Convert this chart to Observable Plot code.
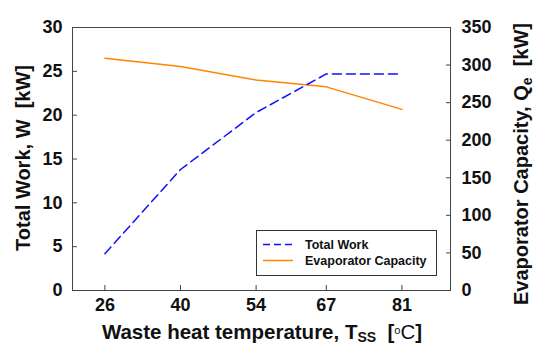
<!DOCTYPE html>
<html>
<head>
<meta charset="utf-8">
<script src="https://cdn.jsdelivr.net/npm/d3@7"></script>
<script src="https://cdn.jsdelivr.net/npm/@observablehq/plot@0.6"></script>
<style>
  html, body { margin: 0; padding: 0; background: #fff; }
  svg { display: block; }
</style>
</head>
<body>
<div id="chart"></div>
<script>
const temps = [26, 40, 54, 67, 81];
const totalWork = [4.2, 13.8, 20.3, 24.7, 24.7];
const evapCapacity = [309, 298, 280, 271, 241];
const leftTicks = [0, 5, 10, 15, 20, 25, 30];
const rightTicks = [0, 50, 100, 150, 200, 250, 300, 350];
const seriesNames = ["Total Work", "Evaporator Capacity"];
const leftMax = 30, rightMax = 350;

const toLeft = v => v * leftMax / rightMax;
const workData = temps.map((t, i) => ({t, v: totalWork[i]}));
const evapData = temps.map((t, i) => ({t, v: toLeft(evapCapacity[i])}));

const blue = "#1010ff", orange = "#ff8400", frameColor = "#444";

const svg = Plot.plot({
  width: 535, height: 346,
  marginLeft: 72, marginRight: 85, marginTop: 27, marginBottom: 56,
  style: {fontFamily: "'Liberation Sans', Arial, sans-serif", fontSize: "18px", fontWeight: "bold", color: "#111", background: "#fff"},
  x: {domain: [20, 90]},
  y: {domain: [0, leftMax]},
  marks: [
    Plot.frame({stroke: frameColor}),
    Plot.axisX(temps, {tickSize: -5, tickPadding: 13, stroke: frameColor, label: null}),
    Plot.axisY(leftTicks, {anchor: "left", tickSize: -5, tickPadding: 15, stroke: frameColor, label: null}),
    Plot.axisY(rightTicks.map(toLeft), {anchor: "right", tickSize: -5, tickPadding: 16, stroke: frameColor, label: null,
      tickFormat: (d) => String(Math.round(d * rightMax / leftMax)), textAnchor: "start"}),
    Plot.line(evapData, {x: "t", y: "v", stroke: orange, strokeWidth: 1.5}),
    Plot.line(workData, {x: "t", y: "v", stroke: blue, strokeWidth: 1.5, strokeDasharray: "9,5"})
  ]
});

const s = d3.select(svg);
const font = "'Liberation Sans', Arial, sans-serif";

// Left title
s.append("text")
  .attr("transform", "translate(30,158) rotate(-90)")
  .attr("text-anchor", "middle").attr("font-size", 20).attr("font-weight", "bold")
  .attr("font-family", font).attr("fill", "#111")
  .attr("xml:space", "preserve")
  .text("Total Work, W  [kW]");

// Right title
const rt = s.append("text")
  .attr("transform", "translate(528,164) rotate(-90)")
  .attr("text-anchor", "middle").attr("font-size", 20).attr("font-weight", "bold")
  .attr("font-family", font).attr("fill", "#111")
  .attr("xml:space", "preserve");
rt.append("tspan").text("Evaporator Capacity, Q");
rt.append("tspan").attr("font-size", 14).attr("dy", 4).text("e");
rt.append("tspan").attr("dy", -4).text("  [kW]");

// X title
const xt = s.append("text")
  .attr("x", 262).attr("y", 339)
  .attr("text-anchor", "middle").attr("font-size", 20.5).attr("font-weight", "bold")
  .attr("font-family", font).attr("fill", "#111")
  .attr("xml:space", "preserve");
xt.append("tspan").text("Waste heat temperature, T");
xt.append("tspan").attr("font-size", 14).attr("dy", 3).text("SS");
xt.append("tspan").attr("dy", -3).text("  [");
xt.append("tspan").attr("font-size", 11).attr("font-weight", "normal").attr("dy", -5).text("o");
xt.append("tspan").attr("font-weight", "normal").attr("dy", 5).text("C");
xt.append("tspan").text("]");

// Legend
const lg = s.append("g");
lg.append("rect").attr("x", 256.5).attr("y", 230.5).attr("width", 180).attr("height", 45)
  .attr("fill", "#fff").attr("stroke", "#333");
const colors = [blue, orange], dashes = ["7,4", null];
seriesNames.forEach((name, i) => {
  const y = 244.5 + i * 16;
  const ln = lg.append("line").attr("x1", 263).attr("x2", 293).attr("y1", y).attr("y2", y)
    .attr("stroke", colors[i]).attr("stroke-width", 1.5);
  if (dashes[i]) ln.attr("stroke-dasharray", dashes[i]);
  lg.append("text").attr("x", 305).attr("y", y + 4.5).attr("text-anchor", "start")
    .attr("font-size", 12.5).attr("font-weight", "bold").attr("font-family", font).attr("fill", "#111")
    .text(name);
});

document.getElementById("chart").appendChild(svg);
</script>
</body>
</html>
